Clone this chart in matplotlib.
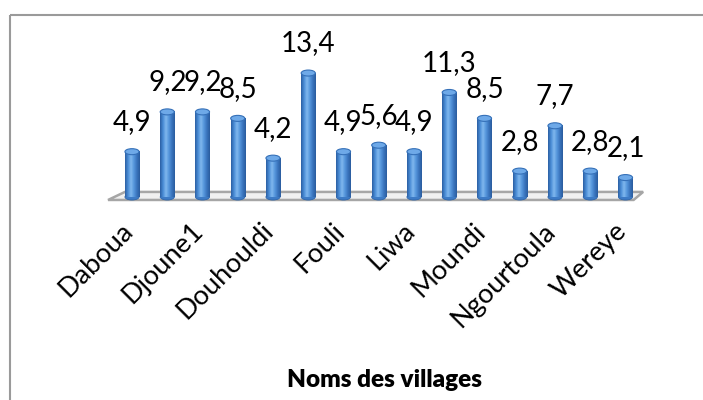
import numpy as np
import matplotlib
matplotlib.use("Agg")
import matplotlib.pyplot as plt
import matplotlib.transforms as mtransforms
from matplotlib.colors import LinearSegmentedColormap
from matplotlib.patches import Ellipse, Polygon, Rectangle

# data (French decimal comma in labels)
villages = ['Daboua', '', 'Djoune1', '', 'Douhouldi', '', 'Fouli', '',
            'Liwa', '', 'Moundi', '', 'Ngourtoula', '', 'Wereye']
values = [4.9, 9.2, 9.2, 8.5, 4.2, 13.4, 4.9, 5.6, 4.9, 11.3, 8.5, 2.8, 7.7, 2.8, 2.1]
value_labels = ['4,9', '9,2', '9,2', '8,5', '4,2', '13,4', '4,9', '5,6', '4,9',
                '11,3', '8,5', '2,8', '7,7', '2,8', '2,1']
xlabel = 'Noms des villages'

plt.rcParams['font.family'] = ['Lato', 'DejaVu Sans']

W, H = 703, 400
fig = plt.figure(figsize=(W / 100, H / 100), dpi=100)

# chart frame (only top/left visible, rest clipped like the source)
fig.patches.append(Rectangle((10 / W, 1 - 15 / H), 1.2, -1.2, transform=fig.transFigure,
                             fill=False, edgecolor='#9a9a9a', linewidth=1.5))

ax_l, ax_r, ax_b, ax_t = 90, 670, 205, 30
ax = fig.add_axes([ax_l / W, 1 - ax_b / H, (ax_r - ax_l) / W, (ax_b - ax_t) / H])
x0, dx = 132, 35.25      # pixel of first bar, pixel step
y0, dy = 197, 9.25       # pixel of zero, pixels per unit
xlim = ((ax_l - x0) / dx, (ax_r - x0) / dx)
ylim = ((y0 - ax_b) / dy, (y0 - ax_t) / dy)

x = np.arange(len(values))
bw = 0.4
cyl = LinearSegmentedColormap.from_list(
    'cyl', ['#2b5fa3', '#4a8dd6', '#80b8ee', '#5596dc', '#3a74bd', '#2a5c9e'])
grad = np.linspace(0, 1, 64)[None, :]

# floor
floor = Polygon([(-0.68, -0.32), (14.23, -0.32), (14.5, 0.55), (-0.2, 0.55)],
                closed=True, facecolor='#f0f0f0', edgecolor='#a6a6a6',
                linewidth=1.8, zorder=1, clip_on=False)
ax.add_patch(floor)

cap_h = 6 / dy
for xi, v, lab in zip(x, values, value_labels):
    ax.add_patch(Ellipse((xi, 0), bw, cap_h, facecolor='#3d7bc6',
                         edgecolor='#2d65aa', linewidth=0.6, zorder=2))
    ax.imshow(grad, cmap=cyl, aspect='auto', zorder=3,
              extent=(xi - bw / 2, xi + bw / 2, 0, v), interpolation='bilinear')
    ax.add_patch(Ellipse((xi, v), bw, cap_h, facecolor='#6ea9e8',
                         edgecolor='#3570b8', linewidth=0.8, zorder=4))
    ax.annotate(lab, (xi, v), xytext=(0, 15.5), textcoords='offset points',
                ha='center', va='baseline', fontsize=20, color='black')

ax.set_xlim(*xlim)
ax.set_ylim(*ylim)
ax.set_xticks(x[::2])
ax.set_xticklabels(villages[::2], rotation=45, ha='right', va='top',
                   rotation_mode='anchor', fontsize=19.5)
ax.tick_params(axis='x', length=0, pad=13)
shift = mtransforms.ScaledTranslation(-12 / 100, 5 / 100, fig.dpi_scale_trans)
for t in ax.get_xticklabels():
    t.set_transform(t.get_transform() + shift)
ax.set_yticks([])
for s in ax.spines.values():
    s.set_visible(False)
ax.patch.set_alpha(0)

fig.text(384 / W, 1 - 387 / H, xlabel, ha='center', va='baseline',
         fontsize=17.5, fontweight='heavy')

fig.savefig('out.png', dpi=100)
